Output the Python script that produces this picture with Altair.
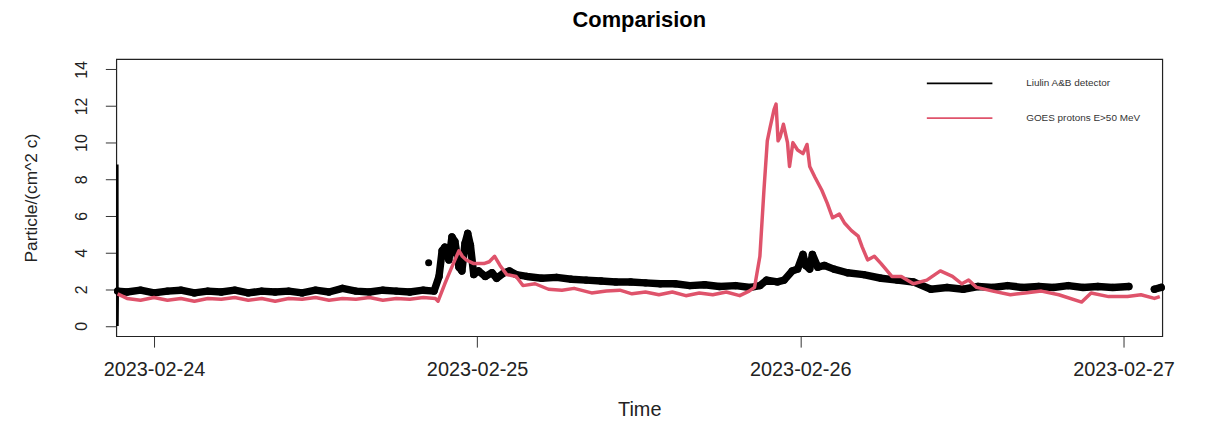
import altair as alt
import pandas as pd

# Time in hours from 2023-02-24 00:00
liulin_start_hours = [-2.72, -2.71, -2.69]
liulin_start_values = [8.8, 0.0, 1.9]

liulin_hours = [
    -2.69, -2.0, -1.0, 0.0, 1.0, 2.0, 3.0, 4.0, 5.0, 6.0, 7.0, 8.0,
    9.0, 10.0, 11.0, 12.0, 13.0, 14.0, 15.0, 16.0, 17.0, 18.0, 19.0, 20.0, 20.8,
    21.17, 21.4, 21.6, 21.9, 22.13, 22.35, 22.65, 22.87, 23.1, 23.3, 23.5, 23.75,
    24.1, 24.6, 25.1, 25.45, 26.0, 26.4, 26.9, 27.7, 28.8, 29.9, 31.0, 32.1, 33.2,
    34.3, 35.4, 36.5, 37.6, 38.7, 39.8, 40.9, 42.0, 43.2, 44.3, 45.0, 45.5, 46.3,
    46.8, 47.4, 47.8, 48.2, 48.4, 48.7, 48.9, 49.3, 49.8, 50.5, 51.5, 52.7, 54.0,
    55.2, 56.4, 57.7, 58.9, 60.1, 61.2, 62.3, 63.4, 64.5, 65.7, 66.8, 67.9, 69.0,
    70.1, 71.2, 72.4,
    74.3, 74.8,
]
liulin_values = [
    1.9, 1.85, 1.95, 1.8, 1.9, 1.95, 1.8, 1.9, 1.85, 1.95, 1.8, 1.9,
    1.85, 1.9, 1.8, 1.95, 1.85, 2.05, 1.9, 1.85, 1.95, 1.9, 1.85, 1.95, 1.9,
    2.7, 4.1, 4.3, 3.6, 4.85, 4.6, 3.2, 3.0, 4.5, 5.05, 4.4, 2.8,
    3.0, 2.7, 2.9, 2.6, 2.9, 3.0, 2.8, 2.7, 2.6, 2.65, 2.55, 2.5, 2.45,
    2.4, 2.4, 2.35, 2.3, 2.3, 2.2, 2.25, 2.15, 2.2, 2.1, 2.2, 2.5, 2.4,
    2.5, 3.0, 3.1, 3.9, 3.3, 3.1, 3.9, 3.2, 3.3, 3.1, 2.9, 2.8, 2.6,
    2.5, 2.4, 2.0, 2.1, 2.0, 2.15, 2.1, 2.2, 2.1, 2.15, 2.1, 2.2, 2.1,
    2.15, 2.1, 2.15,
    2.0, 2.1,
]
# first run of readings, then the short run after the data gap near the right edge
liulin_segment = [1] * (len(liulin_hours) - 2) + [2] * 2

liulin_spike_hours = [20.4]
liulin_spike_values = [3.45]

goes_hours = [
    -2.7, -2.0, -1.0, 0.0, 1.0, 2.0, 3.0, 4.0, 5.0, 6.0, 7.0, 8.0, 9.0, 10.0,
    11.0, 12.0, 13.0, 14.0, 15.0, 16.0, 17.0, 18.0, 19.0, 20.0, 20.9, 21.1,
    21.6, 22.0, 22.35, 22.65, 22.9, 23.2, 23.75, 24.5, 24.9, 25.3, 25.7, 26.2,
    26.9, 27.4, 28.3, 29.3, 30.3, 31.2, 32.5, 33.6, 34.6, 35.5, 36.5, 37.5,
    38.5, 39.5, 40.5, 41.5, 42.5, 43.5, 44.2, 44.6, 45.0, 45.3, 45.55, 45.75,
    46.05, 46.2, 46.35, 46.5, 46.75, 47.05, 47.2, 47.45, 47.8, 48.2, 48.5, 48.7,
    49.1, 49.6, 50.0, 50.4, 50.9, 51.3, 51.8, 52.3, 52.6, 53.0, 53.5, 54.0,
    54.8, 55.5, 56.4, 57.4, 58.4, 59.3, 60.0, 60.5, 61.1, 62.3, 63.6, 64.7,
    65.9, 67.2, 68.9, 69.6, 70.9, 72.3, 73.3, 74.3, 74.7,
]
goes_values = [
    1.75, 1.5, 1.4, 1.55, 1.4, 1.5, 1.35, 1.5, 1.45, 1.55, 1.4, 1.5, 1.35, 1.5,
    1.45, 1.55, 1.4, 1.5, 1.45, 1.55, 1.4, 1.5, 1.45, 1.55, 1.5, 1.35,
    2.3, 3.0, 3.6, 4.1, 3.8, 3.6, 3.4, 3.4, 3.5, 3.8, 3.3, 2.8,
    2.7, 2.2, 2.3, 2.0, 1.95, 2.05, 1.8, 1.9, 1.95, 1.75, 1.85, 1.7,
    1.85, 1.65, 1.8, 1.7, 1.85, 1.65, 1.9, 2.1, 3.8, 7.4, 10.1, 10.8,
    11.8, 12.1, 10.1, 10.3, 11.0, 10.0, 8.7, 10.0, 9.6, 9.4, 9.9, 8.7,
    8.1, 7.4, 6.7, 5.9, 6.1, 5.6, 5.2, 4.9, 4.3, 3.6, 3.8, 3.4,
    2.7, 2.7, 2.3, 2.5, 3.0, 2.7, 2.3, 2.5, 2.1, 1.9, 1.7, 1.8,
    1.9, 1.7, 1.3, 1.8, 1.6, 1.6, 1.7, 1.5, 1.6,
]

series_names = ["Liulin A&B detector", "GOES protons E>50 MeV"]
series_colors = ["black", "#DF536B"]
y_ticks = [0, 2, 4, 6, 8, 10, 12, 14]

base = pd.Timestamp("2023-02-24 00:00:00")


def to_times(hours):
    return [(base + pd.Timedelta(hours=h)).strftime("%Y-%m-%dT%H:%M:%S") for h in hours]


start_df = pd.DataFrame({
    "time": to_times(liulin_start_hours), "value": liulin_start_values,
    "series": series_names[0],
})
liulin_df = pd.DataFrame({
    "time": to_times(liulin_hours), "value": liulin_values,
    "segment": liulin_segment, "series": series_names[0],
})
spike_df = pd.DataFrame({
    "time": to_times(liulin_spike_hours), "value": liulin_spike_values,
    "series": series_names[0],
})
goes_df = pd.DataFrame({
    "time": to_times(goes_hours), "value": goes_values, "series": series_names[1],
})

FONT = "Liberation Sans"

x_enc = alt.X(
    "time:T",
    scale=alt.Scale(
        domain=[alt.DateTime(year=2023, month=2, date=23, hours=21, minutes=12),
                alt.DateTime(year=2023, month=2, date=27, hours=2, minutes=53)],
        nice=False,
    ),
    axis=alt.Axis(
        title="Time",
        values=[alt.DateTime(year=2023, month=2, date=d) for d in [24, 25, 26, 27]],
        format="%Y-%m-%d",
        labelFontSize=20, labelFont=FONT, labelColor="#222",
        labelPadding=13, tickSize=11, tickColor="#333", domain=False, grid=False,
        titleFontSize=20, titleFont=FONT, titleFontWeight="normal", titleColor="#222",
        titleY=64, titleBaseline="top", labelFlush=False,
    ),
)
y_enc = alt.Y(
    "value:Q",
    scale=alt.Scale(domain=[-0.56, 14.56], nice=False, zero=False),
    axis=alt.Axis(
        title="Particle/(cm^2 c)",
        values=y_ticks,
        labelAngle=270, labelAlign="center", labelBaseline="bottom",
        labelFontSize=16, labelFont=FONT, labelColor="#222",
        labelPadding=16, tickSize=11, tickColor="#333", domain=False, grid=False,
        titleFontSize=17.5, titleFont=FONT, titleFontWeight="normal", titleColor="#222",
        titleX=-85, titleY=139.5, titleAngle=270, titleAlign="center",
        titleBaseline="middle", labelFlush=False,
    ),
)
color_enc = alt.Color(
    "series:N",
    scale=alt.Scale(domain=series_names, range=series_colors),
    legend=alt.Legend(
        title=None, orient="none", legendX=815, legendY=7,
        symbolType="stroke", symbolSize=4356, symbolStrokeWidth=1.6,
        clipHeight=35, rowPadding=0, padding=0,
        labelFont=FONT, labelFontSize=10, labelColor="#333", labelOffset=33,
    ),
)

start_line = alt.Chart(start_df).mark_line(strokeWidth=2.5).encode(
    x=x_enc, y=y_enc, color=color_enc
)
liulin_line = alt.Chart(liulin_df).mark_line(strokeWidth=7.5, strokeCap="round", strokeJoin="round").encode(
    x=x_enc, y=y_enc, color=color_enc, detail="segment:N"
)
liulin_pts = alt.Chart(liulin_df).mark_point(filled=True, shape="circle", size=55, opacity=1).encode(
    x=x_enc, y=y_enc, color=color_enc
)
spike_pts = alt.Chart(spike_df).mark_point(filled=True, shape="circle", size=50, opacity=1).encode(
    x=x_enc, y=y_enc, color=color_enc
)
goes_line = alt.Chart(goes_df).mark_line(strokeWidth=3.5, strokeJoin="round").encode(
    x=x_enc, y=y_enc, color=color_enc
)

chart = alt.layer(start_line, liulin_line, liulin_pts, spike_pts, goes_line).properties(
    width=1053, height=279,
    padding={"left": 109, "top": 50, "right": 40, "bottom": 84},
    autosize=alt.AutoSizeParams(type="none"),
    title=alt.TitleParams(
        text="Comparision", font=FONT, fontSize=22, fontWeight="bold",
        color="black", anchor="middle", offset=27,
    ),
).configure(
    background="white",
    view=alt.ViewConfig(stroke="#222", strokeWidth=1.2),
)

chart.save("out.html", embed_options={"renderer": "svg", "actions": False})
